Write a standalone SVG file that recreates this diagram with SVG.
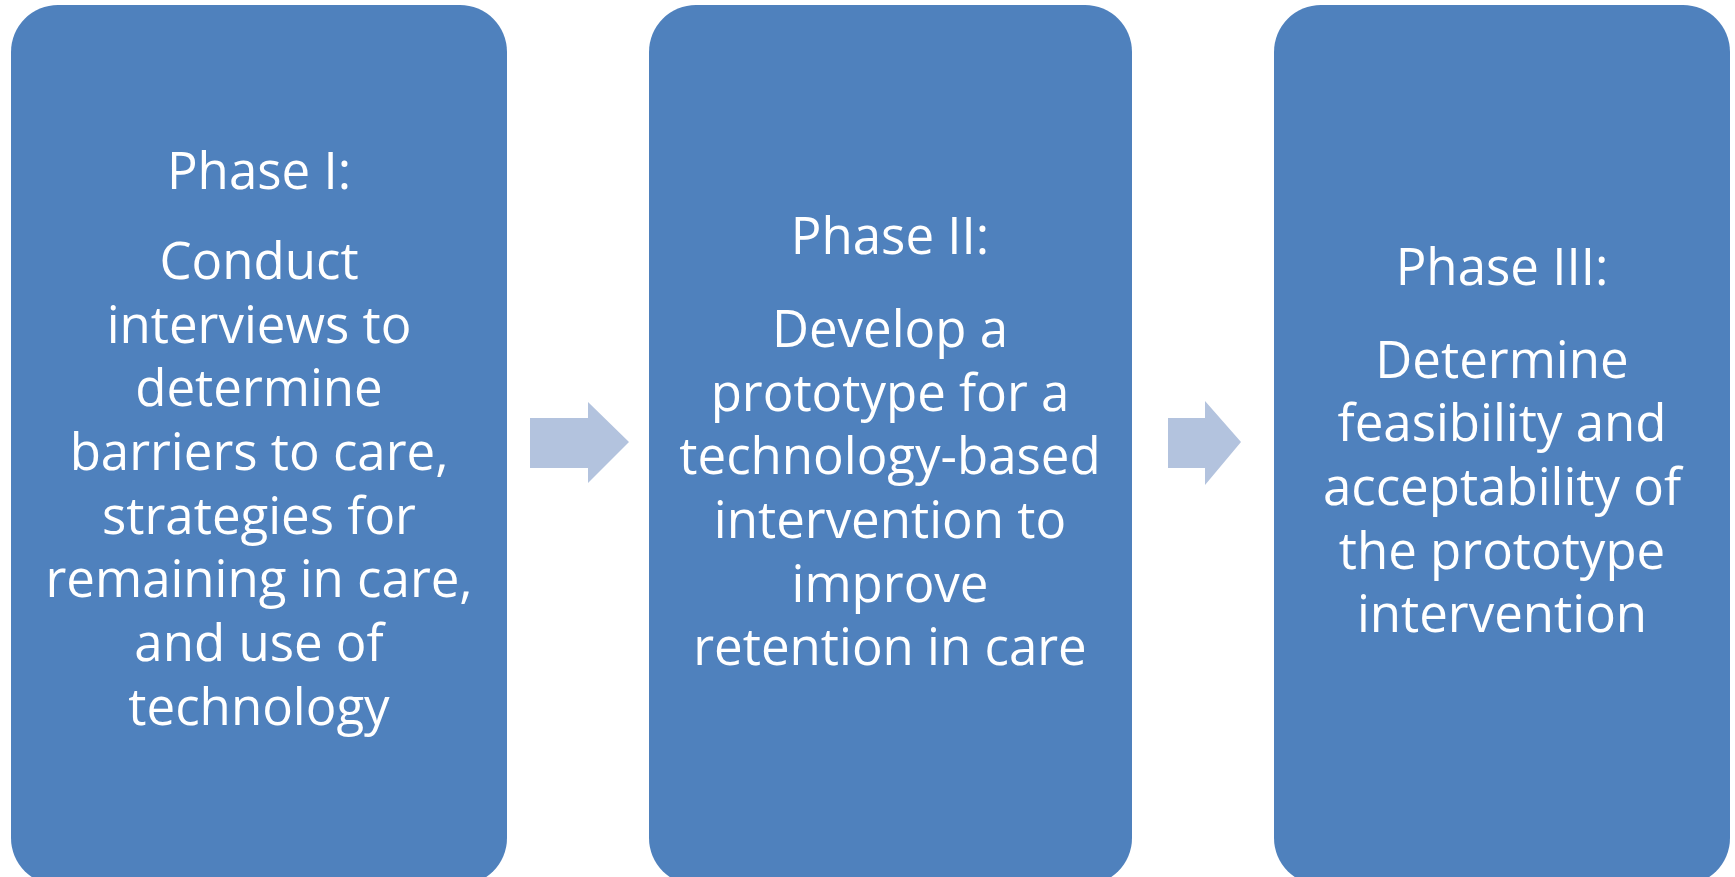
<svg xmlns="http://www.w3.org/2000/svg" width="1735" height="877" viewBox="0 0 1735 877">
<style>
.box{fill:#4F81BD}
.arr{fill:#B3C3DE}
text{font-family:"Open Sans","Liberation Sans",sans-serif;font-size:51px;fill:#FFFFFF;text-anchor:middle}
</style>
<rect width="1735" height="877" fill="#FFFFFF"/>
<g id="node-phase1">
<rect class="box" x="11" y="5" width="496" height="880" rx="47" ry="47"/>
<text x="259" y="189">Phase I:</text>
<text x="259" y="279">Conduct</text>
<text x="259" y="343">interviews to</text>
<text x="259" y="406">determine</text>
<text x="259" y="470">barriers to care,</text>
<text x="259" y="534">strategies for</text>
<text x="259" y="597">remaining in care,</text>
<text x="259" y="661">and use of</text>
<text x="259" y="725">technology</text>
</g>
<g id="node-phase2">
<rect class="box" x="649" y="5" width="483" height="880" rx="47" ry="47"/>
<text x="890" y="254">Phase II:</text>
<text x="890" y="347">Develop a</text>
<text x="890" y="411">prototype for a</text>
<text x="890" y="474">technology-based</text>
<text x="890" y="538">intervention to</text>
<text x="890" y="602">improve</text>
<text x="890" y="665">retention in care</text>
</g>
<g id="node-phase3">
<rect class="box" x="1274" y="5" width="456" height="880" rx="47" ry="47"/>
<text x="1502" y="285">Phase III:</text>
<text x="1502" y="378">Determine</text>
<text x="1502" y="441">feasibility and</text>
<text x="1502" y="505">acceptability of</text>
<text x="1502" y="569">the prototype</text>
<text x="1502" y="632">intervention</text>
</g>
<g id="connectors">
<polygon class="arr" points="530,418 588,418 588,402 629,442 588,483 588,468 530,468"/>
<polygon class="arr" points="1168,418 1205,418 1205,401 1241,442 1205,485 1205,468 1168,468"/>
</g>
</svg>
